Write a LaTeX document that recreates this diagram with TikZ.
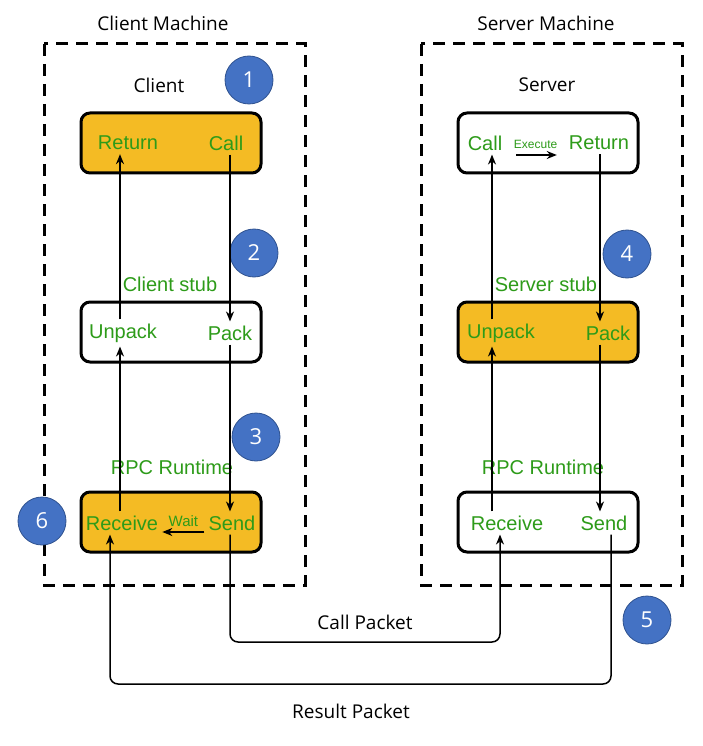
\documentclass[tikz,border=0pt]{standalone}
\usepackage{fontspec}
\setmainfont{Open Sans}
\newfontfamily\stubfont{Liberation Sans}
\usetikzlibrary{arrows.meta, positioning}

\definecolor{boxorange}{RGB}{244,187,36}
\definecolor{labelgreen}{RGB}{45,155,25}
\definecolor{stepblue}{RGB}{68,114,196}
\definecolor{stepedge}{RGB}{47,82,143}

\begin{document}
\begin{tikzpicture}[
    x=1pt, y=-1pt,
    machine/.style={draw, line width=3pt, dash pattern=on 12pt off 8pt},
    layer/.style={draw, line width=3pt, rounded corners=9pt, minimum width=180pt, minimum height=60pt},
    hot/.style={layer, fill=boxorange},
    cold/.style={layer, fill=white},
    word/.style={text=labelgreen, font=\stubfont\fontsize{20}{23}\selectfont, inner sep=4pt},
    tag/.style={text=labelgreen, font=\stubfont\fontsize{12}{14}\selectfont, inner sep=1pt},
    title/.style={font=\fontsize{19}{22}\selectfont},
    stepnum/.style={circle, fill=stepblue, draw=stepedge, line width=0.8pt, minimum size=48pt, inner sep=0pt, text=white, font=\fontsize{22}{26}\selectfont},
    arr/.style={-{Stealth[length=10pt, width=8pt]}, line width=1.5pt},
    pkt/.style={arr, rounded corners=8pt}
]
    \useasboundingbox (0,0) rectangle (702,746);

    % machines
    \draw[machine] (44,44) rectangle (305,585);
    \draw[machine] (421,44) rectangle (682,585);
    \node[title] (cmach) at (163,23) {Client Machine};
    \node[title] (smach) at (546,23) {Server Machine};
    \node[title] (client) at (159,85) {Client};
    \node[title] (server) at (547,85) {Server};

    % client side
    \node[hot] (ctop) at (171,143) {};
    \node[word] (creturn) at (128,143) {Return};
    \node[word] (ccall) at (226,143) {Call};
    \node[word] (cstub) at (170,284) {Client stub};
    \node[cold] (cmid) at (171,332) {};
    \node[word] (cunpack) at (123,333) {Unpack};
    \node[word] (cpack) at (230,333) {Pack};
    \node[word] (crpc) at (172,467) {RPC Runtime};
    \node[hot] (cbot) at (171,522) {};
    \node[word] (creceive) at (122,523) {Receive};
    \node[word] (csend) at (232,523) {Send};

    % server side
    \node[cold] (stop) at (548,143) {};
    \node[word] (scall) at (485,143) {Call};
    \node[word] (sreturn) at (599,143) {Return};
    \node[word] (sstub) at (546,284) {Server stub};
    \node[hot] (smid) at (548,332) {};
    \node[word] (sunpack) at (501,333) {Unpack};
    \node[word] (spack) at (608,333) {Pack};
    \node[word] (srpc) at (543,467) {RPC Runtime};
    \node[cold] (sbot) at (548,522) {};
    \node[word] (sreceive) at (507,523) {Receive};
    \node[word] (ssend) at (604,523) {Send};

    % steps
    \node[stepnum] (n1) at (249,80) {1};
    \node[stepnum] (n2) at (254,253) {2};
    \node[stepnum] (n3) at (256,437) {3};
    \node[stepnum] (n4) at (627,254) {4};
    \node[stepnum] (n5) at (647,620) {5};
    \node[stepnum] (n6) at (42,521) {6};

    % client arrows
    \draw[arr] ([xshift=-3pt]cunpack.north) -- ([xshift=-3pt]cunpack.north |- creturn.south);
    \draw[arr] ([xshift=4pt]ccall.south) -- ([xshift=4pt]ccall.south |- cpack.north);
    \draw[arr] ([xshift=-2pt]creceive.north) -- ([xshift=-2pt]creceive.north |- cunpack.south);
    \draw[arr] (cpack.south) -- (cpack.south |- csend.north);
    \draw[arr] ([yshift=-9pt]csend.west) -- ([yshift=-9pt]creceive.east)
        node[tag, midway, above=4pt, font=\stubfont\fontsize{15}{17}\selectfont] (wait) {Wait};

    % server arrows
    \draw[arr] ([xshift=-9pt]sunpack.north) -- ([xshift=-9pt]sunpack.north |- scall.south);
    \draw[arr] ([xshift=1pt]sreturn.south) -- ([xshift=1pt]sreturn.south |- spack.north);
    \draw[arr] ([xshift=-15pt]sreceive.north) -- ([xshift=-15pt]sreceive.north |- sunpack.south);
    \draw[arr] ([xshift=-8pt]spack.south) -- ([xshift=-8pt]spack.south |- ssend.north);
    \draw[arr, shorten <=10pt, shorten >=8pt] ([yshift=-12pt]scall.east) -- ([yshift=-12pt]sreturn.west)
        node[tag, midway, above=5pt] (exec) {Execute};

    % packets
    \coordinate (callturn) at (0,642);
    \coordinate (resturn) at (0,684);
    \coordinate (callin) at ([xshift=-7pt]sreceive.south);
    \coordinate (resin) at ([xshift=-12pt]creceive.south);
    \draw[pkt] ([xshift=-2pt]csend.south) |- (callin |- callturn) -- (callin);
    \node[title] (callpkt) at (365,622) {Call Packet};
    \draw[pkt] ([xshift=7pt]ssend.south) |- (resin |- resturn) -- (resin);
    \node[title] (respkt) at (351,711) {Result Packet};
\end{tikzpicture}
\end{document}
